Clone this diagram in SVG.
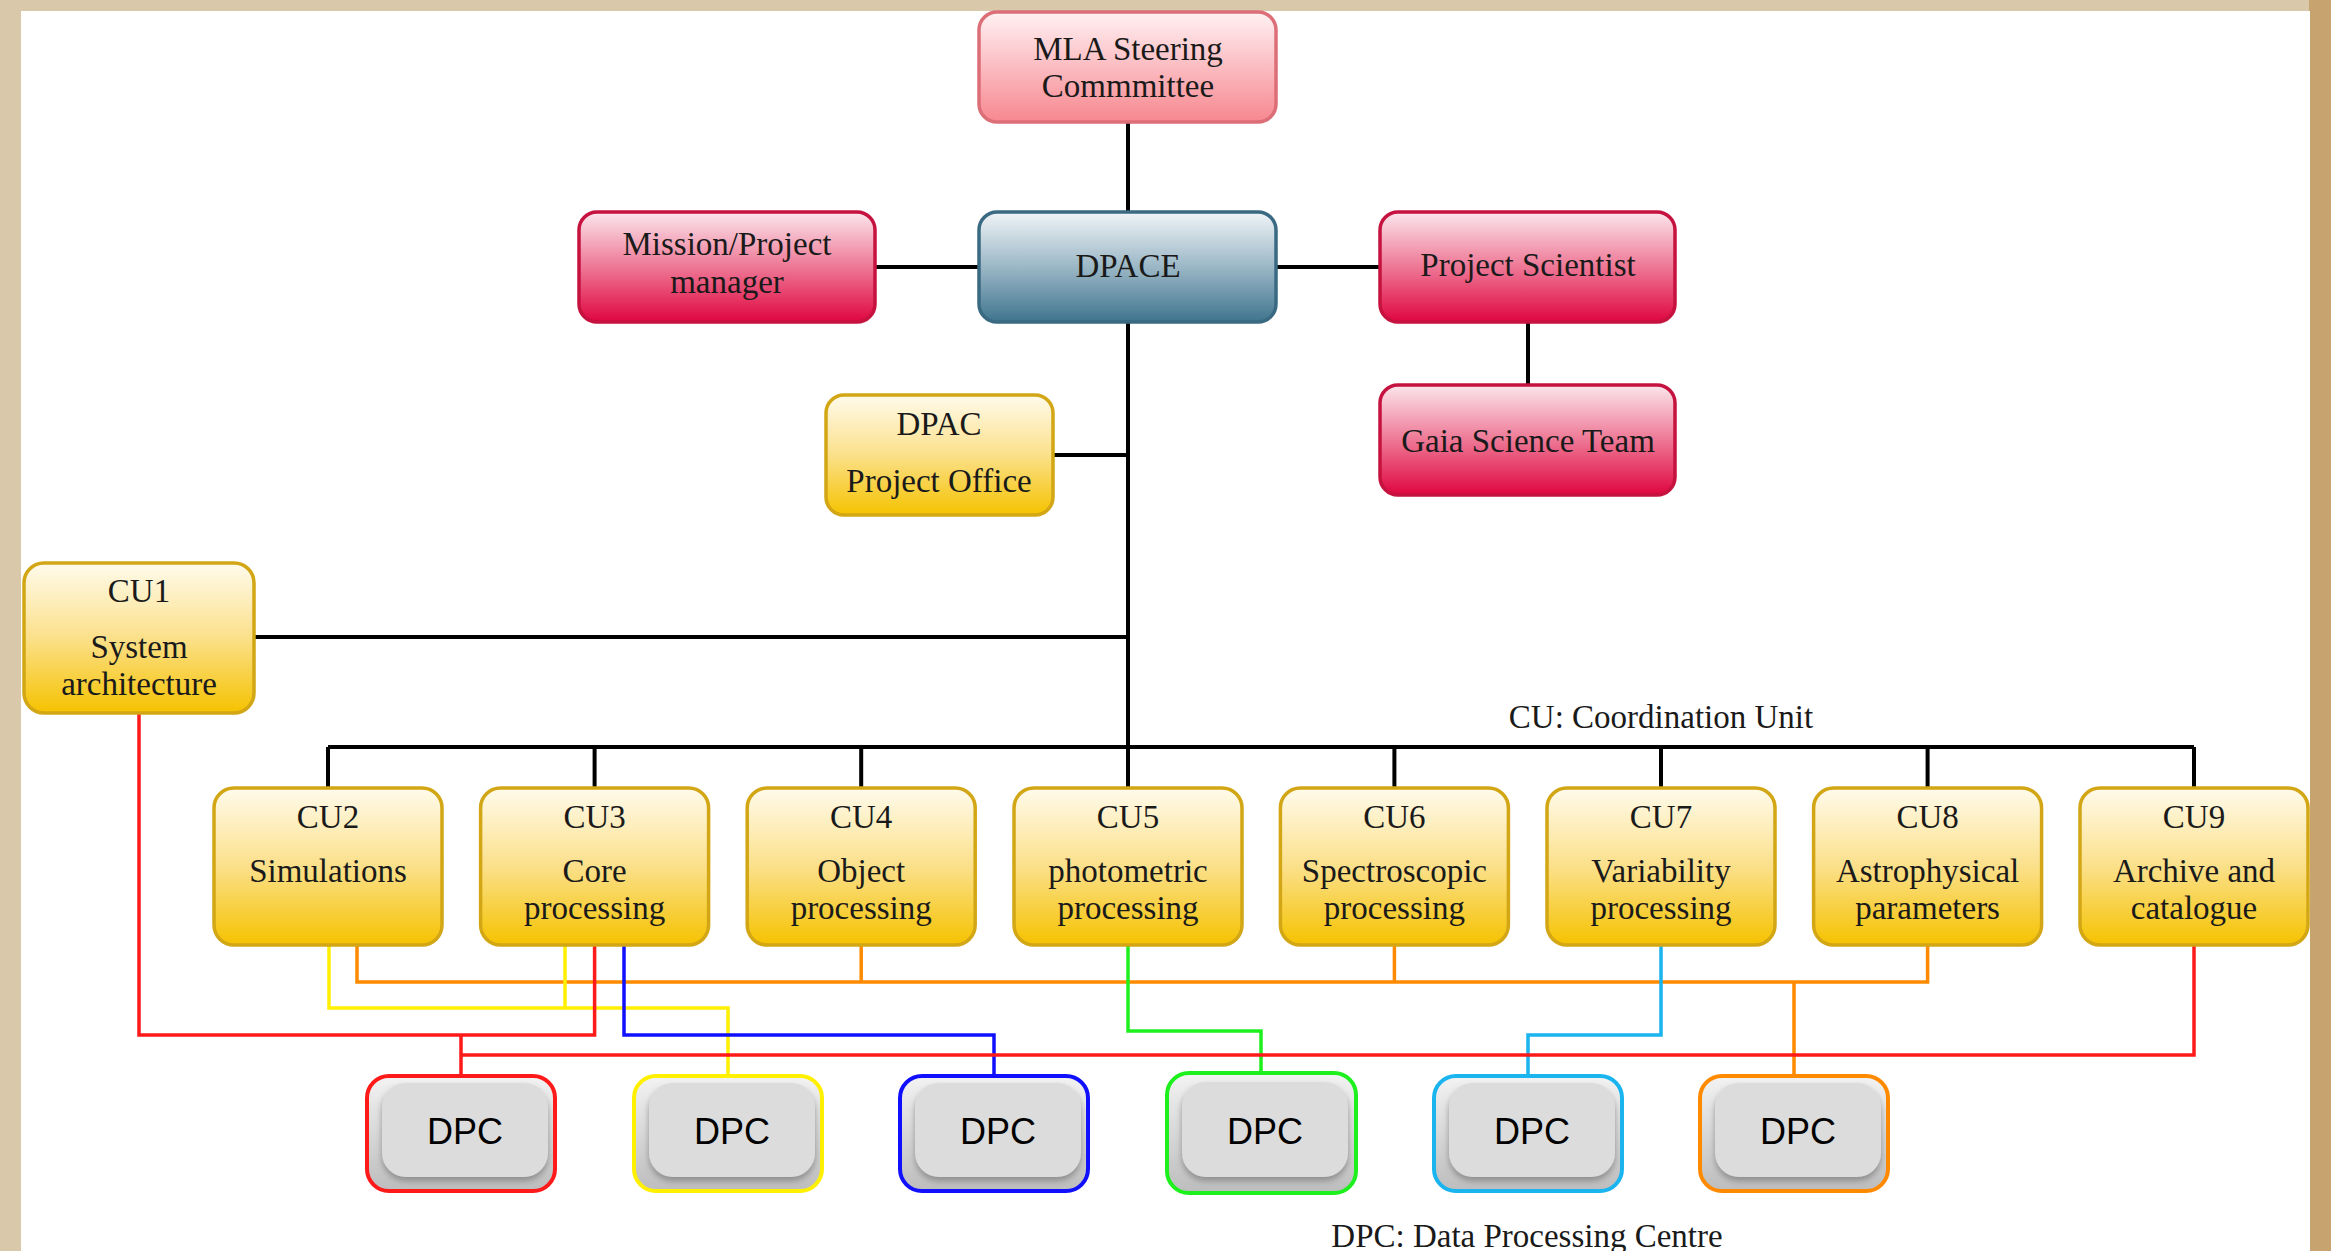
<svg xmlns="http://www.w3.org/2000/svg" width="2331" height="1251" viewBox="0 0 2331 1251">
<defs>
<linearGradient id="gMLA" x1="0" y1="0" x2="0" y2="1"><stop offset="0" stop-color="#fff1f3"/><stop offset="1" stop-color="#f7878f"/></linearGradient>
<linearGradient id="gRed" x1="0" y1="0" x2="0" y2="1"><stop offset="0" stop-color="#fbe6ec"/><stop offset="0.5" stop-color="#ee7795"/><stop offset="1" stop-color="#df0640"/></linearGradient>
<linearGradient id="gBlue" x1="0" y1="0" x2="0" y2="1"><stop offset="0" stop-color="#f0f4f7"/><stop offset="0.5" stop-color="#9bb7c6"/><stop offset="1" stop-color="#3f748e"/></linearGradient>
<linearGradient id="gYel" x1="0" y1="0" x2="0" y2="1"><stop offset="0" stop-color="#fffbec"/><stop offset="0.5" stop-color="#fbe08a"/><stop offset="1" stop-color="#f5c200"/></linearGradient>
<linearGradient id="gDpc" x1="0" y1="0" x2="0" y2="1"><stop offset="0" stop-color="#f3f3f3"/><stop offset="1" stop-color="#bdbdbd"/></linearGradient>
<filter id="sh" x="-20%" y="-20%" width="140%" height="150%"><feDropShadow dx="0" dy="4" stdDeviation="3" flood-color="#777" flood-opacity="0.7"/></filter>
</defs>
<style>
.t{font-family:"Liberation Serif","Times New Roman",serif;font-size:33px;fill:#1a1a1a;text-anchor:middle}
.d{font-family:"Liberation Sans",Arial,sans-serif;font-size:36px;fill:#000;text-anchor:middle}
.mla{fill:url(#gMLA);stroke:#dc6e78;stroke-width:3.5}
.red{fill:url(#gRed);stroke:#c5123f;stroke-width:3.5}
.blu{fill:url(#gBlue);stroke:#3a6a82;stroke-width:3.5}
.yel{fill:url(#gYel);stroke:#d2a614;stroke-width:3.5}
.dpo{fill:url(#gDpc);stroke-width:4}
.dpi{fill:#dcdcdc;filter:url(#sh)}
.k{fill:none;stroke:#000;stroke-width:4}
.c{fill:none;stroke-width:3.5}
</style>
<rect x="0" y="0" width="2331" height="1251" fill="#d9c9aa"/>
<rect x="2309" y="0" width="22" height="1251" fill="#c7a46f"/>
<rect x="21" y="11" width="2289" height="1240" fill="#ffffff"/>

<g id="connectors">
<path class="k" d="M1128 122V788M875 267H979M1276 267H1380M1528 322V385M1053 455H1128M254 637H1128M328 747H2194M328 747V788M594.6 747V788M861.2 747V788M1394.4 747V788M1661 747V788M1927.6 747V788M2194 747V788"/>
<path class="c" stroke="#ff8a00" d="M357 945V982H1927.6V945M861.2 945V982M1394.4 945V982M1794 982V1076"/>
<path class="c" stroke="#fff000" d="M329 945V1008H728V1076M565 945V1008"/>
<path class="c" stroke="#1010ff" d="M624 945V1035H994V1076"/>
<path class="c" stroke="#1ef01e" d="M1128 945V1031H1261V1073"/>
<path class="c" stroke="#1ab4ee" d="M1661 945V1035H1528V1076"/>
<path class="c" stroke="#ff1a1a" d="M139 713V1035H594.6V945M461 1035V1076M461 1055H2194V945"/>
</g>

<g id="mla"><rect class="mla" x="979" y="12" width="297" height="110" rx="18"/><text class="t" x="1128" y="60">MLA Steering</text><text class="t" x="1128" y="97">Commmittee</text></g>
<g id="dpace"><rect class="blu" x="979" y="212" width="297" height="110" rx="18"/><text class="t" x="1128" y="277">DPACE</text></g>
<g id="mission"><rect class="red" x="579" y="212" width="296" height="110" rx="18"/><text class="t" x="727" y="255">Mission/Project</text><text class="t" x="727" y="293">manager</text></g>
<g id="scientist"><rect class="red" x="1380" y="212" width="295" height="110" rx="18"/><text class="t" x="1528" y="276">Project Scientist</text></g>
<g id="gst"><rect class="red" x="1380" y="385" width="295" height="110" rx="18"/><text class="t" x="1528" y="452">Gaia Science Team</text></g>
<g id="dpacpo"><rect class="yel" x="826" y="395" width="227" height="120" rx="18"/><text class="t" x="939" y="435">DPAC</text><text class="t" x="939" y="492">Project Office</text></g>
<g id="cu1"><rect class="yel" x="24" y="563" width="230" height="150" rx="20"/><text class="t" x="139" y="602">CU1</text><text class="t" x="139" y="658">System</text><text class="t" x="139" y="695">architecture</text></g>

<g id="cu2"><rect class="yel" x="214" y="788" width="228" height="157" rx="20"/><text class="t" x="328" y="828">CU2</text><text class="t" x="328" y="882">Simulations</text></g>
<g id="cu3"><rect class="yel" x="480.6" y="788" width="228" height="157" rx="20"/><text class="t" x="594.6" y="828">CU3</text><text class="t" x="594.6" y="882">Core</text><text class="t" x="594.6" y="919">processing</text></g>
<g id="cu4"><rect class="yel" x="747.2" y="788" width="228" height="157" rx="20"/><text class="t" x="861.2" y="828">CU4</text><text class="t" x="861.2" y="882">Object</text><text class="t" x="861.2" y="919">processing</text></g>
<g id="cu5"><rect class="yel" x="1014" y="788" width="228" height="157" rx="20"/><text class="t" x="1128" y="828">CU5</text><text class="t" x="1128" y="882">photometric</text><text class="t" x="1128" y="919">processing</text></g>
<g id="cu6"><rect class="yel" x="1280.4" y="788" width="228" height="157" rx="20"/><text class="t" x="1394.4" y="828">CU6</text><text class="t" x="1394.4" y="882">Spectroscopic</text><text class="t" x="1394.4" y="919">processing</text></g>
<g id="cu7"><rect class="yel" x="1547" y="788" width="228" height="157" rx="20"/><text class="t" x="1661" y="828">CU7</text><text class="t" x="1661" y="882">Variability</text><text class="t" x="1661" y="919">processing</text></g>
<g id="cu8"><rect class="yel" x="1813.6" y="788" width="228" height="157" rx="20"/><text class="t" x="1927.6" y="828">CU8</text><text class="t" x="1927.6" y="882">Astrophysical</text><text class="t" x="1927.6" y="919">parameters</text></g>
<g id="cu9"><rect class="yel" x="2080" y="788" width="228" height="157" rx="20"/><text class="t" x="2194" y="828">CU9</text><text class="t" x="2194" y="882">Archive and</text><text class="t" x="2194" y="919">catalogue</text></g>

<g id="dpc1"><rect class="dpo" stroke="#ff1a1a" x="367" y="1076" width="188" height="115" rx="22"/><rect class="dpi" x="382" y="1083" width="166" height="94" rx="24"/><text class="d" x="465" y="1144">DPC</text></g>
<g id="dpc2"><rect class="dpo" stroke="#fff000" x="634" y="1076" width="188" height="115" rx="22"/><rect class="dpi" x="649" y="1083" width="166" height="94" rx="24"/><text class="d" x="732" y="1144">DPC</text></g>
<g id="dpc3"><rect class="dpo" stroke="#1010ff" x="900" y="1076" width="188" height="115" rx="22"/><rect class="dpi" x="915" y="1083" width="166" height="94" rx="24"/><text class="d" x="998" y="1144">DPC</text></g>
<g id="dpc4"><rect class="dpo" stroke="#1ef01e" x="1167" y="1073" width="189" height="120" rx="22"/><rect class="dpi" x="1182" y="1082" width="166" height="95" rx="24"/><text class="d" x="1265" y="1144">DPC</text></g>
<g id="dpc5"><rect class="dpo" stroke="#1ab4ee" x="1434" y="1076" width="188" height="115" rx="22"/><rect class="dpi" x="1449" y="1083" width="166" height="94" rx="24"/><text class="d" x="1532" y="1144">DPC</text></g>
<g id="dpc6"><rect class="dpo" stroke="#ff8a00" x="1700" y="1076" width="188" height="115" rx="22"/><rect class="dpi" x="1715" y="1083" width="166" height="94" rx="24"/><text class="d" x="1798" y="1144">DPC</text></g>

<text class="t" x="1661" y="728">CU: Coordination Unit</text>
<text class="t" x="1527" y="1247">DPC: Data Processing Centre</text>
</svg>
